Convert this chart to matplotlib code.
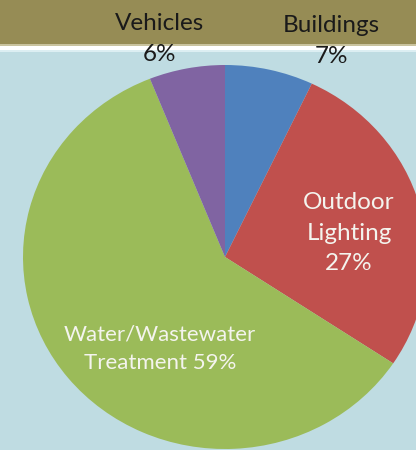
import matplotlib
matplotlib.use('Agg')
import matplotlib.pyplot as plt
from matplotlib.patches import Rectangle

# 能耗构成数据
categories = ['Buildings', 'Outdoor\nLighting', 'Water/Wastewater\nTreatment', 'Vehicles']
shares = [7, 27, 59, 6]
colors = ['#4F81BD', '#C0504D', '#9BBB59', '#8064A2']

plt.rcParams['font.family'] = ['Lato', 'DejaVu Sans']

fig = plt.figure(figsize=(4.16, 4.5), dpi=100, facecolor='#BFDCE2')
ax = fig.add_axes([0, 0, 1, 1])
ax.set_facecolor('#BFDCE2')

# 顶部横条
band = [
    (0.0, 44, '#968C55'),
    (44, 46, '#C9C39E'),
    (46, 50, '#FFFFFF'),
    (50, 52, '#DCEEF2'),
]
for top, bottom, c in band:
    ax.add_patch(Rectangle((0, 1 - bottom / 450), 1, (bottom - top) / 450,
                           transform=fig.transFigure, color=c, zorder=0, lw=0))

ax.pie(shares, colors=colors, startangle=90, counterclock=False, radius=1,
       wedgeprops=dict(linewidth=0), frame=True)
ax.set_aspect('auto')
# 横向略拉伸的饼图
ax.set_xlim(-225 / 202, 191 / 202)
ax.set_ylim(-193 / 192, 257 / 192)
ax.axis('off')

# 标签文字
ax.text(-0.322, 1.136, 'Vehicles\n6%', ha='center', va='center', fontsize=17.5,
        color='#1A1A1A', linespacing=1.58, zorder=5)
ax.text(0.525, 1.125, 'Buildings\n7%', ha='center', va='center', fontsize=17.5,
        color='#1A1A1A', linespacing=1.58, zorder=5)
ax.text(0.614, 0.124, 'Outdoor\nLighting\n27%', ha='center', va='center', fontsize=17.5,
        color='#F4F4EE', linespacing=1.55, zorder=5)
ax.text(-0.322, -0.479, 'Water/Wastewater\nTreatment 59%', ha='center', va='center',
        fontsize=16, color='#F4F4EE', linespacing=1.53, zorder=5)

plt.savefig('out.png', dpi=100, facecolor=fig.get_facecolor())
plt.close()
